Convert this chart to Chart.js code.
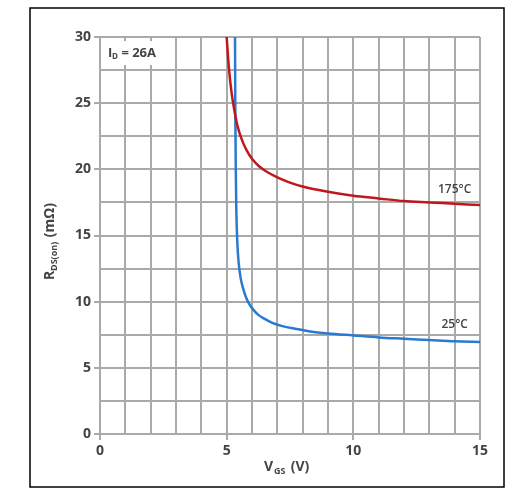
<!DOCTYPE html>
<html><head>
<script src="https://cdn.jsdelivr.net/npm/chart.js@4"></script>
<style>body{margin:0;background:#fff}</style>
</head><body>
<canvas id="c" width="513" height="496"></canvas>
<script>
const hotV = [5.0, 5.05, 5.1, 5.2, 5.3, 5.4, 5.5, 5.65, 5.8, 6, 6.3, 6.6, 7, 7.5, 8, 9, 10, 11, 12, 13, 14, 15];
const hotR = [30, 28.6, 27.4, 25.7, 24.5, 23.5, 22.8, 22.0, 21.4, 20.8, 20.2, 19.8, 19.4, 19.0, 18.7, 18.3, 18.0, 17.8, 17.6, 17.5, 17.4, 17.3];
const coldV = [5.33, 5.34, 5.36, 5.38, 5.42, 5.47, 5.55, 5.65, 5.77, 5.9, 6.05, 6.25, 6.5, 6.8, 7.2, 7.7, 8.3, 9, 10, 11, 12, 13, 14, 15];
const coldR = [30, 25, 20, 17, 14.5, 13, 11.8, 11.0, 10.3, 9.8, 9.4, 9.0, 8.7, 8.4, 8.15, 7.95, 7.75, 7.6, 7.45, 7.3, 7.2, 7.1, 7.0, 6.95];
const curveLabels = [{t: '175°C', x: 14, y: 18.5}, {t: '25°C', x: 14, y: 8.3}];

const font = "'Open Sans', sans-serif";
const toXY = (xs, ys) => xs.map((x, i) => ({x: x, y: ys[i]}));

const extras = {
  id: 'extras',
  afterDraw(chart) {
    const ctx = chart.ctx, xs = chart.scales.x, ys = chart.scales.y, a = chart.chartArea;
    ctx.save();
    ctx.strokeStyle = '#000'; ctx.lineWidth = 1.5;
    ctx.strokeRect(30, 8, 474, 479);
    ctx.fillStyle = '#444';
    ctx.font = '600 12px ' + font;
    ctx.textAlign = 'center'; ctx.textBaseline = 'middle';
    curveLabels.forEach(l => ctx.fillText(l.t, xs.getPixelForValue(l.x), ys.getPixelForValue(l.y)));
    ctx.fillStyle = '#fff'; ctx.fillRect(a.left + 4, a.top + 4, 60, 24);
    ctx.fillStyle = '#444'; ctx.textAlign = 'left';
    ctx.font = '700 13px ' + font; ctx.fillText('I', a.left + 8, a.top + 16);
    ctx.font = '700 8px ' + font; ctx.fillText('D', a.left + 12, a.top + 20);
    ctx.font = '700 13px ' + font; ctx.fillText(' = 26A', a.left + 18, a.top + 16);
    ctx.font = '700 14px ' + font;
    let x0 = 264;
    ctx.fillText('V', x0, 467);
    ctx.font = '700 9px ' + font; ctx.fillText('GS', x0 + 10, 471);
    ctx.font = '700 14px ' + font; ctx.fillText(' (V)', x0 + 23, 467);
    ctx.translate(50, 235); ctx.rotate(-Math.PI / 2);
    ctx.font = '700 14px ' + font; ctx.fillText('R', -45, 0);
    ctx.font = '700 9px ' + font; ctx.fillText('DS(on)', -36, 4);
    ctx.font = '700 14px ' + font; ctx.fillText(' (mΩ)', -6, 0);
    ctx.restore();
  }
};

new Chart(document.getElementById('c'), {
  type: 'scatter',
  data: {datasets: [
    {data: toXY(hotV, hotR), showLine: true, borderColor: '#c0171c', borderWidth: 2.5, pointRadius: 0, cubicInterpolationMode: 'monotone'},
    {data: toXY(coldV, coldR), showLine: true, borderColor: '#2a7ad0', borderWidth: 2.5, pointRadius: 0, cubicInterpolationMode: 'monotone'}
  ]},
  options: {
    responsive: false, animation: false,
    layout: {padding: {left: 30, right: 33, top: 37, bottom: 0}},
    plugins: {legend: {display: false}, tooltip: {enabled: false}},
    scales: {
      x: {
        type: 'linear', min: 0, max: 15,
        afterFit: s => { s.height = 62; },
        grid: {color: '#aaa', lineWidth: 2, tickLength: 6, tickColor: c => c.tick && c.tick.value % 5 === 0 ? '#aaa' : 'rgba(0,0,0,0)'},
        border: {color: '#aaa', width: 2},
        ticks: {stepSize: 1, autoSkip: false, maxRotation: 0, color: '#444', font: {family: font, size: 14, weight: '700'},
          callback: v => v % 5 === 0 ? v : ''}
      },
      y: {
        min: 0, max: 30,
        afterFit: s => { s.width = 70; },
        grid: {color: '#aaa', lineWidth: 2, tickLength: 6, tickColor: c => c.tick && c.tick.value % 5 === 0 ? '#aaa' : 'rgba(0,0,0,0)'},
        border: {color: '#aaa', width: 2},
        ticks: {stepSize: 2.5, autoSkip: false, color: '#444', font: {family: font, size: 14, weight: '700'},
          callback: v => v % 5 === 0 ? v : ''}
      }
    }
  },
  plugins: [extras]
});
</script>
</body></html>
